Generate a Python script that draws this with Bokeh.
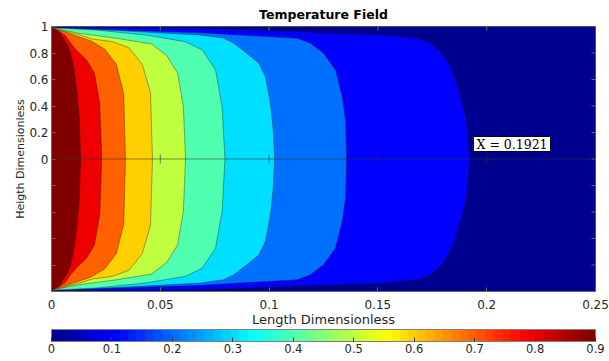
from bokeh.plotting import figure
from bokeh.models import (ColumnDataSource, LinearColorMapper, ColorBar, FixedTicker,
                          Span, Label, Range1d)
from bokeh.embed import file_html
from bokeh.resources import INLINE

# ---------------- data ----------------
domain_x = [0.0, 0.25]
domain_y = [-1.0, 1.0]
levels = [0.1, 0.2, 0.3, 0.4, 0.5, 0.6, 0.7, 0.8, 0.9]

# contour lines, upper half (mirrored for lower half); ordered wall-corner -> centreline
c01_x = [0.0, 0.030, 0.0685, 0.1512, 0.1681, 0.1742, 0.1795, 0.1841, 0.1880, 0.1907, 0.1921]
c01_y = [0.995, 0.99, 0.986, 0.936, 0.911, 0.873, 0.797, 0.672, 0.470, 0.294, 0.0]
c02_x = [0.0, 0.0685, 0.1129, 0.1190, 0.1251, 0.1305, 0.1336, 0.1351, 0.1356]
c02_y = [0.99, 0.953, 0.911, 0.873, 0.797, 0.672, 0.470, 0.294, 0.0]
c03_x = [0.0, 0.030, 0.0685, 0.0792, 0.0838, 0.0899, 0.0953, 0.0983, 0.1006, 0.1019, 0.1025]
c03_y = [0.99, 0.97, 0.936, 0.911, 0.873, 0.797, 0.722, 0.621, 0.420, 0.219, 0.0]
c04_x = [0.0, 0.0202, 0.0432, 0.0616, 0.0693, 0.0754, 0.0784, 0.0797]
c04_y = [0.99, 0.974, 0.936, 0.885, 0.823, 0.672, 0.395, 0.0]
c05_x = [0.0, 0.0126, 0.0300, 0.0460, 0.0530, 0.0580, 0.0606, 0.0616]
c05_y = [0.99, 0.949, 0.911, 0.868, 0.78, 0.647, 0.395, 0.0]
c06_x = [0.0, 0.0060, 0.0125, 0.0190, 0.0279, 0.0355, 0.0417, 0.0455, 0.0464]
c06_y = [0.99, 0.965, 0.938, 0.905, 0.886, 0.84, 0.715, 0.50, 0.0]
c07_x = [0.0, 0.0064, 0.0110, 0.0180, 0.0244, 0.0298, 0.0332, 0.0340]
c07_y = [0.99, 0.958, 0.93, 0.893, 0.83, 0.715, 0.49, 0.0]
c08_x = [0.0, 0.0032, 0.0062, 0.0085, 0.0115, 0.0160, 0.0197, 0.0222, 0.0231]
c08_y = [0.99, 0.966, 0.935, 0.88, 0.82, 0.75, 0.65, 0.42, 0.0]
c09_x = [0.0, 0.0034, 0.0057, 0.0074, 0.0087, 0.0103, 0.0118, 0.0128, 0.0134]
c09_y = [0.99, 0.962, 0.90, 0.86, 0.80, 0.69, 0.5, 0.3, 0.0]

x_tip = 0.1921

x_ticks = [0, 0.05, 0.1, 0.15, 0.2, 0.25]
x_tick_labels = ["0", "0.05", "0.1", "0.15", "0.2", "0.25"]
y_ticks = [0, 0.2, 0.4, 0.6, 0.8, 1]
y_tick_labels = ["0", "0.2", "0.4", "0.6", "0.8", "1"]
y_minor_ticks = [-1, -0.8, -0.6, -0.4, -0.2]
cb_ticks = [0, 0.1, 0.2, 0.3, 0.4, 0.5, 0.6, 0.7, 0.8, 0.9]
cb_tick_labels = ["0", "0.1", "0.2", "0.3", "0.4", "0.5", "0.6", "0.7", "0.8", "0.9"]
clim = (0.0, 0.9)


def jet(n):
    m = -(-n // 4)
    u = [i / m for i in range(1, m + 1)] + [1.0] * (m - 1) + [i / m for i in range(m, 0, -1)]
    L = len(u)
    off = -(-m // 2) - (1 if n % 4 == 1 else 0)
    g = [off + k for k in range(1, L + 1)]
    r = [gi + m for gi in g]
    b = [gi - m for gi in g]
    g = [v for v in g if v <= n]
    r = [v for v in r if v <= n]
    b = [v for v in b if v >= 1]
    J = [[0.0, 0.0, 0.0] for _ in range(n)]
    for k, idx in enumerate(r):
        J[idx - 1][0] = u[k]
    for k, idx in enumerate(g):
        J[idx - 1][1] = u[k]
    for k, idx in enumerate(b):
        J[idx - 1][2] = u[L - len(b) + k]
    return ["#%02x%02x%02x" % tuple(int(round(255 * c)) for c in row) for row in J]


palette = jet(64)
mapper = LinearColorMapper(palette=palette, low=clim[0], high=clim[1])

FONT = "DejaVu Sans"
TXT = "#262626"
AX = "#6a6a6a"

p = figure(frame_width=544, frame_height=265,
           x_range=Range1d(0, 0.25), y_range=Range1d(-1, 1),
           output_backend="svg", toolbar_location=None,
           min_border_left=51, min_border_right=14, min_border_top=26, min_border_bottom=0)
p.outline_line_color = AX
p.outline_line_width = 1
p.grid.visible = False
p.background_fill_color = "white"

# base region (lowest band)
base = ColumnDataSource(dict(left=[domain_x[0]], right=[domain_x[1]],
                             bottom=[domain_y[0]], top=[domain_y[1]], level=[0.0]))
p.quad(left="left", right="right", bottom="bottom", top="top", source=base,
       fill_color={"field": "level", "transform": mapper}, line_color=None)

curves = [(c01_x, c01_y), (c02_x, c02_y), (c03_x, c03_y), (c04_x, c04_y), (c05_x, c05_y),
          (c06_x, c06_y), (c07_x, c07_y), (c08_x, c08_y), (c09_x, c09_y)]
xs, ys = [], []
for cx, cy in curves:
    xs.append(list(cx) + list(cx[-2::-1]))
    ys.append(list(cy) + [-v for v in cy[-2::-1]])
src = ColumnDataSource(dict(xs=xs, ys=ys, level=levels))
p.patches("xs", "ys", source=src, fill_color={"field": "level", "transform": mapper},
          line_color="#1a1a1a", line_alpha=0.55, line_width=0.7)

# origin axis line with ticks
p.add_layout(Span(location=0, dimension="width", line_color="#333333", line_alpha=0.55, line_width=1))
p.scatter(x=x_ticks[1:-1], y=[0] * (len(x_ticks) - 2), marker="dash", angle=1.5708, size=9,
          line_color="#333333", line_alpha=0.6, line_width=1)

# mirrored ticks on the top and right edges of the box
p.scatter(x=x_ticks[1:-1], y=[domain_y[1]] * (len(x_ticks) - 2), marker="dash", angle=1.5708,
          size=8, line_color=AX, line_width=1)
p.scatter(x=[domain_x[1]] * (len(y_ticks) + len(y_minor_ticks) - 2),
          y=y_minor_ticks[1:] + y_ticks[:-1], marker="dash", size=8, line_color=AX, line_width=1)

# datatip
p.add_layout(Label(x=x_tip, y=0, x_offset=4, y_offset=15, text="X = %s" % x_tip,
                   text_font="DejaVu Serif", text_font_size="12.5px", text_color="#000000",
                   text_baseline="middle", background_fill_color="white",
                   border_line_color="#000000", border_line_width=1, padding=(3, 0)))

# axes
def style_axis(ax):
    ax.axis_line_color = AX
    ax.major_tick_line_color = AX
    ax.minor_tick_line_color = AX
    ax.major_tick_in = 4
    ax.major_tick_out = 0
    ax.minor_tick_in = 4
    ax.minor_tick_out = 0
    ax.major_label_text_font = FONT
    ax.major_label_text_color = TXT
    ax.major_label_text_font_size = "12px"
    ax.axis_label_text_font = FONT
    ax.axis_label_text_color = TXT
    ax.axis_label_text_font_style = "normal"


p.xaxis.ticker = FixedTicker(ticks=x_ticks)
p.xaxis.major_label_overrides = dict(zip(x_ticks, x_tick_labels))
p.xaxis.axis_label = "Length Dimensionless"
style_axis(p.xaxis[0])
p.xaxis.axis_label_text_font_size = "13px"
p.xaxis.major_label_standoff = 8
p.xaxis.axis_label_standoff = 0

p.yaxis.ticker = FixedTicker(ticks=y_ticks, minor_ticks=y_minor_ticks)
p.yaxis.major_label_overrides = dict(zip(y_ticks, y_tick_labels))
p.yaxis.axis_label = "Heigth Dimensionless"
style_axis(p.yaxis[0])
p.yaxis.axis_label_text_font_size = "11px"
p.yaxis.major_label_standoff = 3
p.yaxis.axis_label_standoff = -1

p.title.text = "Temperature Field"
p.title.align = "center"
p.title.text_font = FONT
p.title.text_font_size = "12.5px"
p.title.text_font_style = "bold"
p.title.text_color = "#000000"
p.title.standoff = 9

cb = ColorBar(color_mapper=mapper, orientation="horizontal", width=544, height=12,
              ticker=FixedTicker(ticks=cb_ticks),
              major_label_overrides=dict(zip(cb_ticks, cb_tick_labels)),
              major_label_text_font=FONT, major_label_text_font_size="11.5px",
              major_label_text_color=TXT, label_standoff=2,
              major_tick_in=4, major_tick_out=0, major_tick_line_color="#333333",
              bar_line_color="#7f7f7f", bar_line_width=1,
              padding=0, margin=5, location="top_center")
p.add_layout(cb, "below")

open("out.html", "w").write(file_html(p, INLINE))
